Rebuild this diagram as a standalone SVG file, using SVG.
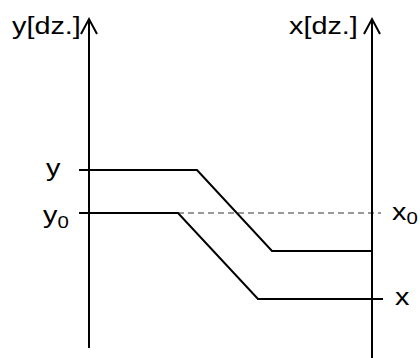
<svg xmlns="http://www.w3.org/2000/svg" width="420" height="358" viewBox="0 0 420 358">
<style>
.ax{stroke:#000;stroke-width:2;fill:none}
.ln{stroke:#000;stroke-width:2;fill:none}
.ds{stroke:#999;stroke-width:2;fill:none;stroke-dasharray:6,4}
text{font-family:"Liberation Sans",Arial,sans-serif;font-size:24px;fill:#000}
.sub{font-size:17px}
</style>
<rect width="420" height="358" fill="#fff"/>
<g id="connectors">
<path class="ds" d="M178,213 H381"/>
<path class="ln" d="M79,170 H197 L272,251 H372"/>
<path class="ln" d="M79,213 H178 L258,299 H383"/>
</g>
<g id="y-axis">
<path class="ax" d="M89,348 V20"/>
<path class="ax" d="M81,34 L89,19 L97,34"/>
<text transform="translate(12,34) scale(1.2,1)">y[dz.]</text>
</g>
<g id="x-axis">
<path class="ax" d="M372,358 V20"/>
<path class="ax" d="M364,34 L372,19 L380,34"/>
<text transform="translate(289,34) scale(1.2,1)">x[dz.]</text>
</g>
<g id="labels">
<text transform="translate(46,176) scale(1.2,1)">y</text>
<text transform="translate(43,223) scale(1.2,1)">y<tspan class="sub" dy="5">0</tspan></text>
<text transform="translate(392,220) scale(1.2,1)">x<tspan class="sub" dy="4">0</tspan></text>
<text transform="translate(395,305) scale(1.2,1)">x</text>
</g>
</svg>
